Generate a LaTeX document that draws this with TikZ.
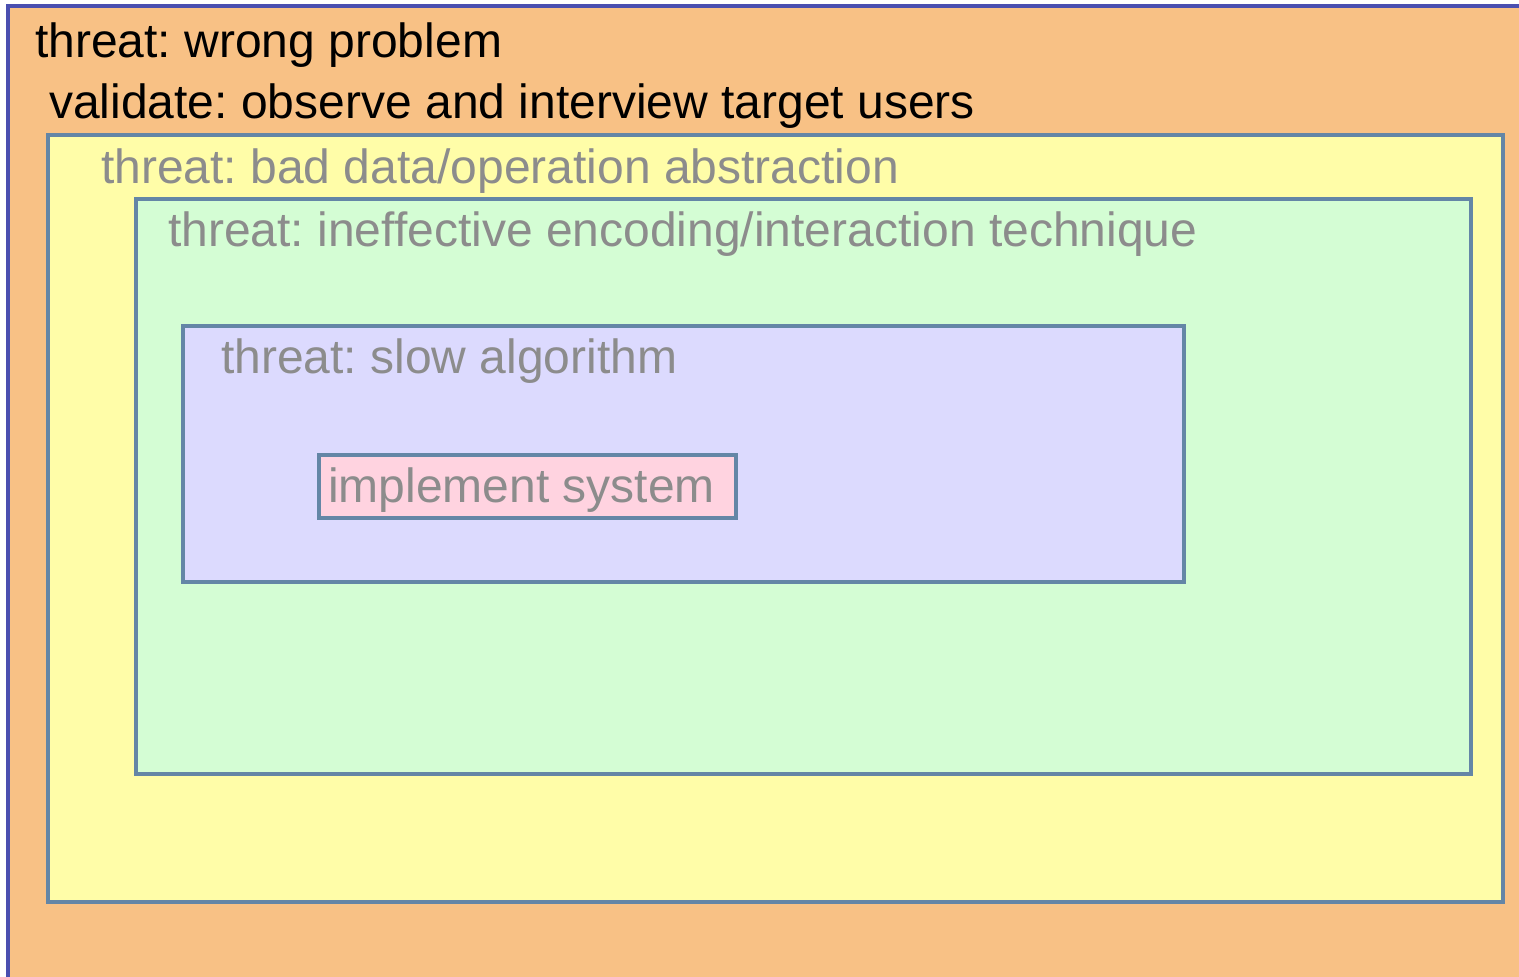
\documentclass[tikz,border=0pt]{standalone}
\usepackage{fontspec}
\setmainfont{Liberation Sans}
\frenchspacing
\definecolor{outerfill}{HTML}{F8C185}
\definecolor{outerline}{HTML}{4A4FB0}
\definecolor{yellowfill}{HTML}{FFFDA8}
\definecolor{greenfill}{HTML}{D4FDD4}
\definecolor{lavfill}{HTML}{DCDAFE}
\definecolor{pinkfill}{HTML}{FFD3E0}
\definecolor{boxline}{HTML}{6486A6}
\definecolor{greytext}{HTML}{8C8C8C}
\tikzset{
  frame/.style={draw=boxline, line width=3.2pt},
  label/.style={anchor=base west, inner sep=0pt, font=\fontsize{48}{57}\selectfont},
  dark/.style={label, text=black},
  grey/.style={label, text=greytext}
}
\begin{document}
\begin{tikzpicture}[x=1pt, y=-1pt]
  \useasboundingbox (0,0) rectangle (1519,977);
  \fill[white] (0,0) rectangle (1519,977);
  % nested boxes, outermost first
  \draw[fill=outerfill, draw=outerline, line width=3.2pt] (8,6) rectangle (1540,1000);
  \draw[frame, fill=yellowfill] (48,135) rectangle (1503,902);
  \draw[frame, fill=greenfill] (136,199) rectangle (1471,774);
  \draw[frame, fill=lavfill] (183,326) rectangle (1184,582);
  \draw[frame, fill=pinkfill] (319,455) rectangle (736,518);
  % labels
  \node[dark] (wrong) at (35,57) {threat: wrong problem};
  \node[dark] (validate) at (49,118) {validate: observe and interview target users};
  \node[grey] (abstraction) at (101,183) {threat: bad data/operation abstraction};
  \node[grey] (encoding) at (168,246) {threat: ineffective encoding/interaction technique};
  \node[grey] (algorithm) at (221,373) {threat: slow algorithm};
  \node[grey] (implement) at (328,502) {implement system};
\end{tikzpicture}
\end{document}
